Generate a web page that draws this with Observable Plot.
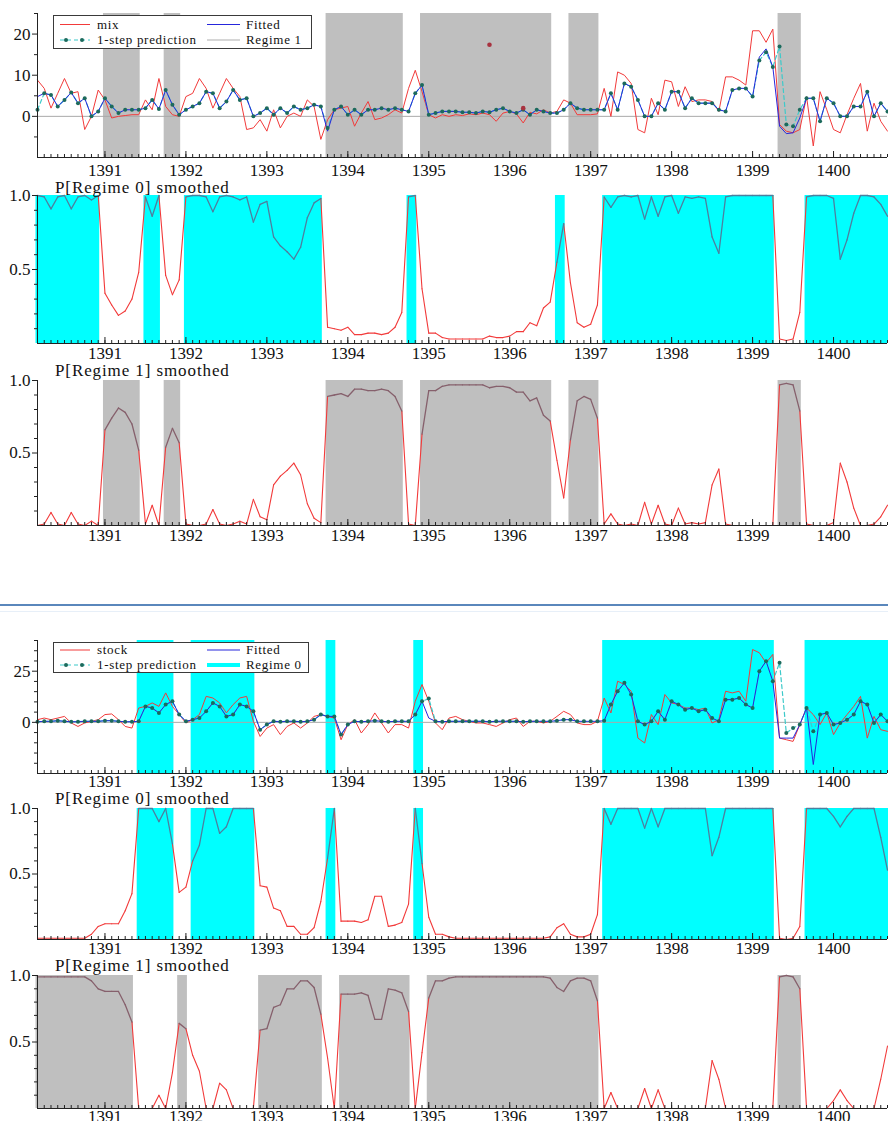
<!DOCTYPE html>
<html>
<head>
<meta charset="utf-8">
<script src="https://cdn.jsdelivr.net/npm/d3@7"></script>
<script src="https://cdn.jsdelivr.net/npm/@observablehq/plot@0.6"></script>
<style>
  body { margin: 0; background: #fff; }
  #page { position: relative; width: 888px; height: 1121px; overflow: hidden; background: #fff;
          font-family: "Liberation Serif", "Times New Roman", serif; }
  .title { position: absolute; left: 55px; font-size: 17px; letter-spacing: 0.9px; color: #111; white-space: nowrap; line-height: 16px; }
  .sep { position: absolute; left: 0; width: 888px; }
</style>
</head>
<body>
<div id="page"></div>
<script>
// Monthly observations, first one is 1390 period 3
const startYear = 1390, startPeriod = 3;
const yearTicks = [1391, 1392, 1393, 1394, 1395, 1396, 1397, 1398, 1399, 1400];

// ---- mix model ----
const mix = [
  8.8, 6.8, 2.0, 5.6, 9.2, 5.6, 6.0, -3.2, 0.0, 6.4,
  4.0, -0.4, 0.0, 0.2, 0.4, 0.4, 4.0, 1.6, 9.2, 2.4,
  0.4, 0.0, 4.8, 5.6, 9.2, 6.8, 2.0, 5.6, 9.2, 6.8,
  4.8, -3.2, -2.8, -0.8, -3.6, 1.6, -2.8, 0.0, 0.8, 0.0,
  4.0, 2.4, -5.6, -0.8, 1.6, 2.0, 2.4, -2.4, 0.8, 3.6,
  -0.8, -0.4, 0.4, 1.6, 0.8, 6.8, 11.2, 6.0, 0.4, -0.4,
  0.4, 0.0, 0.4, 0.2, 0.6, 0.4, 0.8, 0.4, -1.2, 0.8,
  1.2, 0.6, -1.6, 1.0, 0.6, 1.6, 0.8, 1.2, 4.0, 3.2,
  0.4, 0.4, 0.4, 0.6, 6.8, 0.0, 10.8, 10.0, 8.0, -3.2,
  -4.0, 4.4, 0.4, 8.8, 8.4, 2.4, 7.2, 3.6, 4.0, 4.0,
  3.6, 1.2, 9.6, 9.6, 8.8, 7.6, 20.8, 20.8, 18.0, 21.2,
  -2.0, -3.6, -4.0, -3.2, 4.8, -7.2, 6.0, 1.6, -3.2, -4.0,
  0.4, 4.4, 8.0, -3.6, 3.2, -1.2, -3.6
];
const mixFitted = [
  4.8, 5.6, 5.2, 2.4, 4.0, 5.8, 3.2, 4.4, 0.0, 1.2,
  4.4, 2.4, 0.8, 1.6, 1.6, 1.6, 2.0, 4.0, 1.8, 6.4,
  2.8, 0.4, 1.6, 2.4, 3.2, 6.0, 5.6, 2.0, 3.6, 6.4,
  4.0, 4.4, 0.0, 0.8, 2.0, 0.4, 2.0, 0.8, 2.4, 1.6,
  2.0, 2.8, 2.4, -3.6, 1.6, 2.4, 0.4, 1.6, 0.4, 1.6,
  1.6, 2.0, 1.6, 2.0, 1.6, 1.2, 5.6, 7.6, 0.4, 0.8,
  1.2, 1.2, 1.2, 1.0, 1.0, 0.8, 1.2, 1.0, 1.6, 2.0,
  1.2, 0.8, 1.6, 0.4, 1.6, 1.2, 0.8, 0.8, 1.6, 3.2,
  2.0, 1.6, 1.6, 1.6, 1.6, 5.6, 1.6, 8.0, 7.2, 4.0,
  0.0, 0.0, 3.2, 1.6, 6.0, 6.0, 2.0, 4.4, 3.2, 3.2,
  3.2, 1.6, 1.2, 6.4, 6.8, 6.8, 4.8, 14.4, 16.4, 12.0,
  -2.4, -4.2, -4.0, -0.4, 4.4, 4.4, -1.2, 4.4, 3.2, 0.0,
  0.0, 2.4, 2.4, 6.0, 0.0, 3.2, 1.2
];
const mixPrediction = [
  1.6, 5.6, 5.2, 2.4, 4.0, 5.8, 3.2, 4.4, 0.0, 1.2,
  4.4, 2.4, 0.8, 1.6, 1.6, 1.6, 2.0, 4.0, 1.8, 6.4,
  2.8, 0.4, 1.6, 2.4, 3.2, 6.0, 5.6, 2.0, 3.6, 6.4,
  4.0, 4.4, 0.0, 0.8, 2.0, 0.4, 2.0, 0.8, 2.4, 1.6,
  2.0, 2.8, 2.4, -2.8, 1.6, 2.4, 0.4, 1.6, 0.4, 1.6,
  1.6, 2.0, 1.6, 2.0, 1.6, 1.2, 5.6, 7.6, 0.4, 0.8,
  1.2, 1.2, 1.2, 1.0, 1.0, 0.8, 1.2, 1.0, 1.6, 2.0,
  1.2, 0.8, 1.6, 0.4, 1.6, 1.2, 0.8, 0.8, 1.6, 3.2,
  2.0, 1.6, 1.6, 1.6, 1.6, 5.6, 1.6, 8.0, 7.2, 4.0,
  0.0, 0.0, 3.2, 1.6, 6.0, 6.0, 2.0, 4.4, 3.2, 3.2,
  3.2, 1.6, 1.2, 6.4, 6.8, 6.8, 4.8, 13.6, 15.6, 12.0,
  17.0, -2.0, -2.4, 1.6, 4.4, 4.4, -1.2, 4.4, 3.2, 0.0,
  0.0, 2.4, 2.4, 6.0, 0.0, 3.2, 1.2
];
// smoothed probability of regime 0 (regime 1 is its complement)
const mixP0 = [
  1.0, 0.99, 0.91, 0.99, 1.0, 0.91, 0.99, 1.0, 0.97, 1.0,
  0.34, 0.26, 0.19, 0.22, 0.30, 0.48, 0.99, 0.86, 1.0, 0.46,
  0.33, 0.43, 0.99, 1.0, 1.0, 0.99, 0.89, 0.99, 1.0, 0.99,
  0.97, 0.99, 0.82, 0.94, 0.96, 0.72, 0.66, 0.62, 0.57, 0.65,
  0.85, 0.95, 0.98, 0.11, 0.10, 0.09, 0.11, 0.06, 0.06, 0.07,
  0.07, 0.06, 0.07, 0.11, 0.21, 0.99, 1.0, 0.37, 0.07, 0.07,
  0.04, 0.03, 0.03, 0.03, 0.03, 0.03, 0.03, 0.05, 0.04, 0.04,
  0.05, 0.08, 0.08, 0.14, 0.12, 0.24, 0.28, 0.55, 0.81, 0.41,
  0.14, 0.11, 0.13, 0.26, 0.99, 0.92, 0.99, 1.0, 0.99, 1.0,
  0.84, 0.99, 0.86, 0.99, 1.0, 0.88, 0.99, 0.98, 0.99, 0.98,
  0.72, 0.61, 0.99, 1.0, 1.0, 1.0, 1.0, 1.0, 1.0, 1.0,
  0.03, 0.02, 0.03, 0.21, 0.99, 1.0, 1.0, 1.0, 0.98, 0.57,
  0.70, 0.88, 1.0, 1.0, 0.99, 0.94, 0.86
];
// isolated observations marked with a dot: [year, period, value]
const mixMarked = [[1395, 10, 17.4], [1396, 3, 2.0]];
// regime spans: [fromYear, fromPeriod, toYear, toPeriod]
const mixRegime0 = [[1390, 3, 1390, 12], [1391, 7, 1391, 9], [1392, 1, 1393, 9], [1394, 10, 1394, 11],
                    [1396, 8, 1396, 9], [1397, 3, 1399, 4], [1399, 9, 1400, 9]];
const mixRegime1 = [[1391, 1, 1391, 6], [1391, 10, 1391, 12], [1393, 10, 1394, 9], [1394, 12, 1396, 7],
                    [1396, 10, 1397, 2], [1399, 5, 1399, 8]];

// ---- stock model ----
const stock = [
  1.3, 2.1, 1.3, 2.1, 2.9, -0.3, -2.0, -0.3, 0.5, 1.3,
  3.8, 4.1, 1.3, -2.0, -2.8, 7.0, 7.8, 9.5, 7.8, 14.4,
  7.8, 3.8, -0.3, 1.3, 3.8, 12.7, 11.9, 9.5, 4.6, 8.7,
  11.9, 12.7, 0.5, -6.9, -2.8, -1.1, -6.0, -2.0, -0.3, -2.8,
  -0.3, 2.9, 3.8, 2.9, 2.1, -8.5, -1.1, 1.3, -5.2, -1.1,
  4.6, -0.3, -5.2, -1.1, -1.1, -2.8, 10.3, 18.5, 10.3, -0.3,
  -3.6, 2.1, 2.9, 1.3, 0.5, -0.3, -0.3, -1.1, -2.0, -0.3,
  1.3, 2.1, -2.0, 0.5, 0.5, -0.3, 0.5, 2.9, 5.4, 3.8,
  -0.3, -1.1, -1.1, 0.5, 11.9, 4.6, 20.1, 18.5, 15.2, -7.7,
  -10.1, 3.8, -1.1, 13.6, 9.5, 8.7, 7.0, 7.0, 6.2, 7.0,
  -0.3, 1.3, 15.2, 14.4, 15.2, 10.3, 35.6, 34.0, 29.1, 33.2,
  -7.7, -8.5, -9.3, -1.1, 7.0, 3.8, -1.1, 4.6, -6.0, -0.3,
  3.8, 7.8, 12.7, -7.7, 2.9, -3.6, -4.4
];
const stockFitted = [
  0.3, 0.5, 0.5, 0.8, 0.5, 0.3, 0.3, 0.5, 0.5, 0.5,
  0.8, 0.8, 0.5, 0.3, 0.3, 0.5, 7.8, 7.0, 4.6, 8.7,
  10.3, 3.8, 0.5, 1.3, 2.1, 5.4, 9.5, 7.8, 2.9, 3.8,
  8.7, 7.8, 5.4, -3.6, -1.1, 0.5, 0.3, 0.5, 0.5, 0.3,
  0.5, 1.3, 3.8, 2.9, 2.9, -6.0, -1.1, 0.5, 0.3, 0.5,
  0.8, 0.5, 0.3, 0.5, 0.5, 0.5, 3.8, 10.3, 2.1, 0.5,
  0.3, 0.5, 0.5, 0.5, 0.5, 0.5, 0.5, 0.3, 0.5, 0.5,
  0.5, 0.5, 0.3, 0.5, 0.5, 0.5, 0.5, 0.8, 1.3, 1.3,
  0.5, 0.5, 0.5, 0.5, 0.8, 8.7, 15.2, 19.3, 13.6, 0.5,
  -1.1, 0.5, 5.4, 1.3, 10.3, 8.7, 6.2, 7.0, 5.4, 6.2,
  2.1, 0.5, 11.1, 11.1, 11.9, 8.7, 7.0, 25.0, 29.9, 20.1,
  -7.7, -7.7, -7.7, -1.1, 7.0, -20.6, 3.8, 4.6, -1.1, -0.3,
  1.3, 3.8, 10.3, 8.7, -0.3, 3.8, 0.5
];
const stockPrediction = [
  0.3, 0.5, 0.5, 0.8, 0.5, 0.3, 0.3, 0.5, 0.5, 0.5,
  0.8, 0.8, 0.5, 0.3, 0.3, 0.5, 7.8, 7.0, 4.6, 8.7,
  10.3, 3.8, 0.5, 1.3, 2.1, 5.4, 9.5, 7.8, 2.9, 3.8,
  8.7, 7.8, 5.4, -3.6, -1.1, 0.5, 0.3, 0.5, 0.5, 0.3,
  0.5, 1.3, 3.8, 2.9, 2.9, -6.0, -1.1, 0.5, 0.3, 0.5,
  0.8, 0.5, 0.3, 0.5, 0.5, 0.5, 3.8, 10.3, 11.6, 0.5,
  0.3, 0.5, 0.5, 0.5, 0.5, 0.5, 0.5, 0.3, 0.5, 0.5,
  0.5, 0.5, 0.3, 0.5, 0.5, 0.5, 0.5, 0.8, 1.3, 1.3,
  0.5, 0.5, 0.5, 0.5, 0.8, 8.7, 15.2, 19.3, 13.6, 0.5,
  -1.1, 0.5, 5.4, 1.3, 10.3, 8.7, 6.2, 7.0, 5.4, 6.2,
  2.1, 0.5, 11.1, 11.1, 11.9, 8.7, 7.0, 25.0, 29.9, 20.1,
  29.1, -5.2, -2.8, -1.1, 7.0, -4.4, 3.8, 4.6, -1.1, -0.3,
  1.3, 3.8, 10.3, 8.7, -0.3, 3.8, 0.5
];
const stockP0 = [
  0.01, 0.01, 0.01, 0.01, 0.01, 0.01, 0.01, 0.01, 0.04, 0.10,
  0.12, 0.12, 0.12, 0.22, 0.35, 1.0, 1.0, 1.0, 0.90, 1.0,
  0.73, 0.36, 0.40, 0.60, 0.72, 1.0, 1.0, 0.81, 0.86, 1.0,
  1.0, 1.0, 1.0, 0.41, 0.40, 0.24, 0.22, 0.10, 0.10, 0.04,
  0.04, 0.09, 0.29, 0.62, 1.0, 0.14, 0.14, 0.14, 0.13, 0.15,
  0.33, 0.33, 0.10, 0.11, 0.13, 0.27, 1.0, 0.58, 0.17, 0.04,
  0.04, 0.02, 0.01, 0.01, 0.01, 0.01, 0.01, 0.01, 0.01, 0.01,
  0.01, 0.01, 0.01, 0.01, 0.01, 0.01, 0.02, 0.09, 0.12, 0.04,
  0.02, 0.02, 0.04, 0.19, 1.0, 0.88, 1.0, 1.0, 1.0, 1.0,
  0.85, 1.0, 0.86, 1.0, 1.0, 1.0, 1.0, 1.0, 1.0, 1.0,
  0.64, 0.78, 1.0, 1.0, 1.0, 1.0, 1.0, 1.0, 1.0, 1.0,
  0.01, 0.0, 0.01, 0.10, 1.0, 1.0, 1.0, 1.0, 0.94, 0.86,
  0.94, 1.0, 1.0, 1.0, 1.0, 0.78, 0.53
];
const stockRegime0 = [[1391, 6, 1391, 11], [1392, 2, 1392, 11], [1393, 10, 1393, 11], [1394, 11, 1394, 12],
                      [1397, 3, 1399, 4], [1399, 9, 1400, 9]];
const stockRegime1 = [[1390, 3, 1391, 5], [1391, 12, 1392, 1], [1392, 12, 1393, 9], [1393, 12, 1394, 10],
                      [1395, 1, 1397, 2], [1399, 5, 1399, 8]];

// ---- helpers ----
const page = document.getElementById("page");
const FONT = "'Liberation Serif', 'Times New Roman', serif";
const RED = "#f23a3a", BLUE = "#2626dc", PRED_LINE = "#3ccaca", PRED_DOT = "#1c6a5c";
const CYAN = "#00ffff", GRAY = "#bfbfbf";
const N = mix.length;
const ym = (y, p) => y + (p - 1) / 12;
const times = d3.range(N).map(i => ym(startYear, startPeriod) + i / 12);
const xDomain = [times[0], times[N - 1]];
const series = vals => vals.map((v, i) => ({t: times[i], v}));
const spanRows = spans => spans.map(([y1, p1, y2, p2]) => ({x1: ym(y1, p1), x2: ym(y2, p2)}));
// the two regime probabilities sum to one
const complement = p => p.map(v => +(1 - v).toFixed(3));

// line segments of a probability path, split by whether they lie inside a shaded span
function splitSegments(vals, spans) {
  const ranges = spanRows(spans);
  const segs = d3.range(N - 1).map(i => ({
    x1: times[i], y1: vals[i], x2: times[i + 1], y2: vals[i + 1],
    shaded: ranges.some(r => times[i] >= r.x1 - 1e-9 && times[i + 1] <= r.x2 + 1e-9)
  }));
  return [segs.filter(s => !s.shaded), segs.filter(s => s.shaded)];
}

function panel({svgTop, plotTop, plotBottom, labelSpace, yDomain, yMajor, yMinor, yFormat, xPad, marks}) {
  const height = plotBottom - svgTop + labelSpace;
  const plotH = plotBottom - plotTop;
  const chart = Plot.plot({
    width: 888, height,
    marginLeft: 37, marginRight: 1, marginTop: plotTop - svgTop, marginBottom: labelSpace,
    style: {fontFamily: FONT, fontSize: "17px", background: "transparent", color: "#111", overflow: "visible"},
    x: {domain: xDomain, axis: null},
    y: {domain: yDomain, axis: null},
    marks: [
      ...marks,
      Plot.ruleX([xDomain[0]], {stroke: "#222", strokeWidth: 1}),
      Plot.ruleY([yDomain[0]], {stroke: "#222", strokeWidth: 1}),
      Plot.tickX(times, {x: d => d, insetTop: plotH - 3, stroke: "#222"}),
      Plot.tickX(yearTicks, {x: d => d, insetTop: plotH - 6, stroke: "#222"}),
      Plot.axisX(yearTicks, {tickSize: 0, tickPadding: xPad, tickFormat: d => String(d), fontSize: 17, label: null}),
      Plot.axisY(yMajor, {tickSize: 5, tickPadding: 2, tickFormat: yFormat, fontSize: 17, label: null, stroke: "#222"}),
      Plot.axisY(yMinor, {tickSize: 3, tickFormat: () => "", label: null, stroke: "#222"})
    ]
  });
  chart.style.position = "absolute";
  chart.style.left = "0px";
  chart.style.top = svgTop + "px";
  page.append(chart);
}

function seriesMarks(actual, fitted, prediction, shadeSpans, shadeFill) {
  return [
    Plot.rect(spanRows(shadeSpans), {x1: "x1", x2: "x2", fill: shadeFill, insetLeft: -1.5, insetRight: -1.5}),
    Plot.ruleY([0], {stroke: "#a9a9a9"}),
    Plot.line(series(actual), {x: "t", y: "v", stroke: RED, strokeWidth: 1}),
    Plot.line(series(prediction), {x: "t", y: "v", stroke: PRED_LINE, strokeWidth: 1.2, strokeDasharray: "4,3"}),
    Plot.line(series(fitted), {x: "t", y: "v", stroke: BLUE, strokeWidth: 1}),
    Plot.dot(series(prediction), {x: "t", y: "v", r: 2, fill: PRED_DOT, stroke: "none"})
  ];
}

function probMarks(p, spans, fill, shadedStroke) {
  const [outside, inside] = splitSegments(p, spans);
  return [
    Plot.rect(spanRows(spans), {x1: "x1", x2: "x2", fill, insetLeft: -1.5, insetRight: -1.5}),
    Plot.link(outside, {x1: "x1", y1: "y1", x2: "x2", y2: "y2", stroke: RED, strokeWidth: 1.1, strokeLinecap: "round"}),
    Plot.link(inside, {x1: "x1", y1: "y1", x2: "x2", y2: "y2", stroke: shadedStroke, strokeWidth: 1.3, strokeLinecap: "round"})
  ];
}

function title(text, top) {
  const d = document.createElement("div");
  d.className = "title";
  d.style.top = top + "px";
  d.textContent = text;
  page.append(d);
}

function legend(left, top, w, h, rows, items) {
  const svg = d3.create("svg").attr("width", w).attr("height", h)
    .style("position", "absolute").style("left", left + "px").style("top", top + "px");
  svg.append("rect").attr("x", 0.5).attr("y", 0.5).attr("width", w - 1).attr("height", h - 1)
    .attr("fill", "#fff").attr("stroke", "#3a3a3a");
  const cols = [{x0: 7, x1: 37, tx: 44}, {x0: 154, x1: 187, tx: 193}];
  for (const it of items) {
    const c = cols[it.col], y = rows[it.row];
    if (it.kind === "pred") {
      svg.append("line").attr("x1", c.x0).attr("x2", c.x1).attr("y1", y).attr("y2", y)
        .attr("stroke", PRED_LINE).attr("stroke-width", 1.2).attr("stroke-dasharray", "4,3");
      for (const x of [c.x0 + 6, c.x1 - 8]) svg.append("circle").attr("cx", x).attr("cy", y).attr("r", 2).attr("fill", PRED_DOT);
    } else {
      svg.append("line").attr("x1", c.x0).attr("x2", c.x1).attr("y1", y).attr("y2", y)
        .attr("stroke", it.color).attr("stroke-width", it.width || 1);
    }
    svg.append("text").attr("x", c.tx).attr("y", y + 4).attr("font-family", FONT).attr("font-size", 13)
      .attr("letter-spacing", 0.7).attr("fill", "#111").text(it.label);
  }
  page.append(svg.node());
}

// ---- mix: series with fitted values ----
const mixMarks = seriesMarks(mix, mixFitted, mixPrediction, mixRegime1, GRAY);
mixMarks.push(Plot.dot(mixMarked, {x: d => ym(d[0], d[1]), y: d => d[2], r: 2.3, fill: "#a8323f", stroke: "none"}));
panel({svgTop: 0, plotTop: 13, plotBottom: 157, labelSpace: 22, yDomain: [-10, 25],
  yMajor: [0, 10, 20], yMinor: [-5, 5, 15, 25], yFormat: d => String(d), xPad: 6, marks: mixMarks});
legend(53, 15, 259, 34, [9.5, 25], [
  {col: 0, row: 0, label: "mix", color: RED},
  {col: 0, row: 1, label: "1-step prediction", kind: "pred"},
  {col: 1, row: 0, label: "Fitted", color: BLUE},
  {col: 1, row: 1, label: "Regime 1", color: "#d6d6d6", width: 2}
]);

const probTicks = {yDomain: [0, 1], yMajor: [0.5, 1.0], yMinor: [0.1, 0.2, 0.3, 0.4, 0.6, 0.7, 0.8, 0.9], yFormat: d3.format(".1f")};

panel({svgTop: 181, plotTop: 195, plotBottom: 343, labelSpace: 18, xPad: 3, ...probTicks,
  marks: probMarks(mixP0, mixRegime0, CYAN, "#4d7f9f")});
title("P[Regime 0] smoothed", 180);

panel({svgTop: 363, plotTop: 380, plotBottom: 525, labelSpace: 20, xPad: 3, ...probTicks,
  marks: probMarks(complement(mixP0), mixRegime1, GRAY, "#86606c")});
title("P[Regime 1] smoothed", 363);

// separator between the two models
const sep = document.createElement("div");
sep.className = "sep"; sep.style.top = "604px"; sep.style.height = "2px"; sep.style.background = "#5a87bc";
page.append(sep);
const sep2 = document.createElement("div");
sep2.className = "sep"; sep2.style.top = "611px"; sep2.style.height = "1px"; sep2.style.background = "#e7eff8";
page.append(sep2);

// ---- stock: series with fitted values ----
panel({svgTop: 620, plotTop: 640, plotBottom: 773, labelSpace: 17, yDomain: [-25, 40],
  yMajor: [0, 25], yMinor: [-20, -15, -10, -5, 5, 10, 15, 20, 30, 35, 40], yFormat: d => String(d), xPad: 1,
  marks: seriesMarks(stock, stockFitted, stockPrediction, stockRegime0, CYAN)});
legend(53, 642, 256, 31, [8, 23], [
  {col: 0, row: 0, label: "stock", color: RED},
  {col: 0, row: 1, label: "1-step prediction", kind: "pred"},
  {col: 1, row: 0, label: "Fitted", color: BLUE},
  {col: 1, row: 1, label: "Regime 0", color: CYAN, width: 4}
]);

panel({svgTop: 793, plotTop: 808, plotBottom: 939, labelSpace: 18, xPad: 2, ...probTicks,
  marks: probMarks(stockP0, stockRegime0, CYAN, "#4d7f9f")});
title("P[Regime 0] smoothed", 791);

panel({svgTop: 961, plotTop: 975, plotBottom: 1108, labelSpace: 24, xPad: 1, ...probTicks,
  marks: probMarks(complement(stockP0), stockRegime1, GRAY, "#86606c")});
title("P[Regime 1] smoothed", 958);
</script>
</body>
</html>
